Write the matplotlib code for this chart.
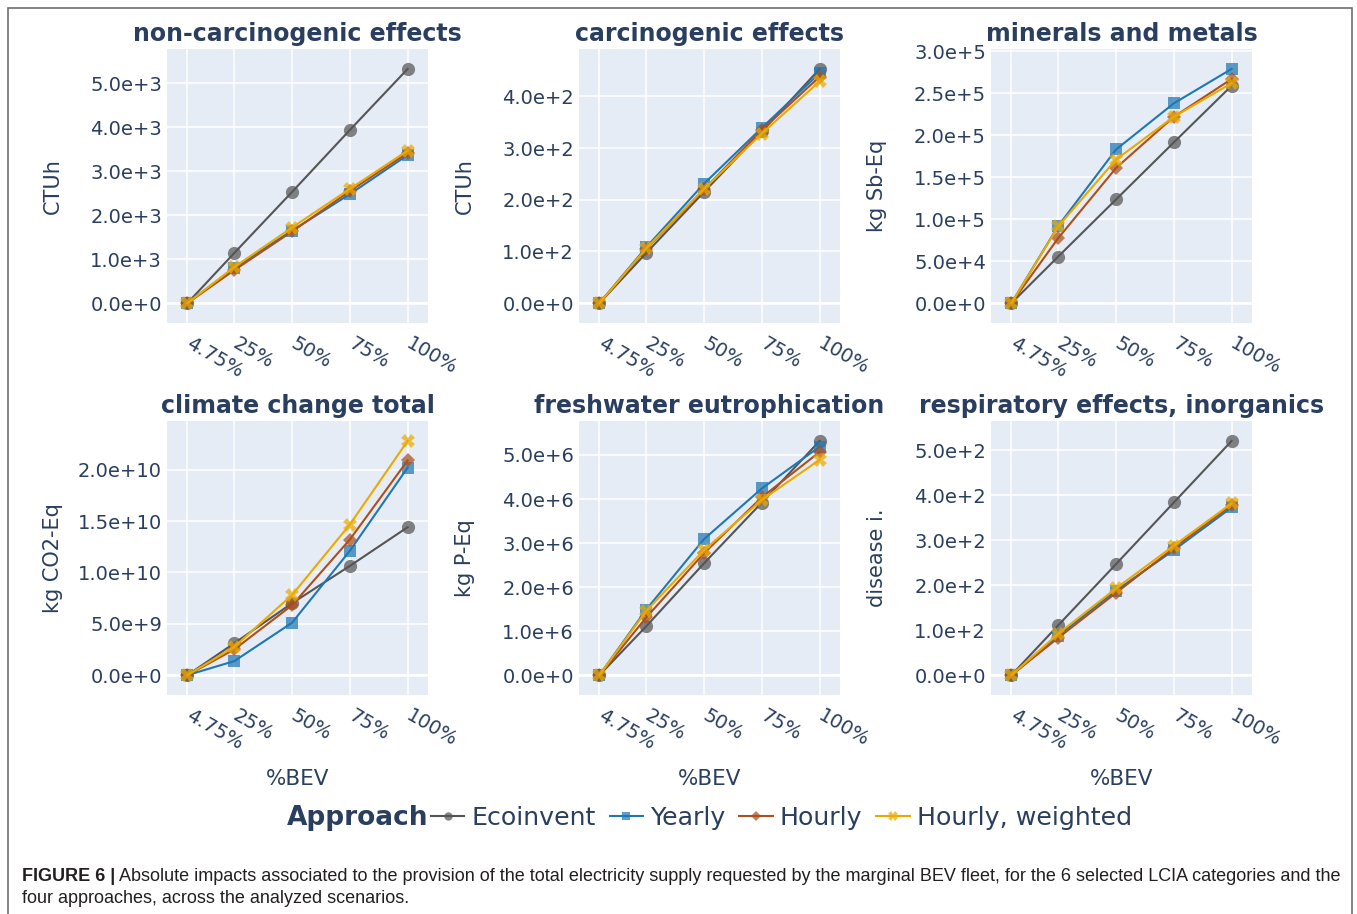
import numpy as np
import matplotlib
matplotlib.use("Agg")
import matplotlib.pyplot as plt
from matplotlib import font_manager
from matplotlib.colors import to_rgba
from matplotlib.lines import Line2D
from matplotlib.patches import Rectangle
from matplotlib.ticker import FuncFormatter, FixedLocator
from matplotlib.transforms import ScaledTranslation

# ---- data -------------------------------------------------------------
scenarios = [4.75, 25, 50, 75, 100]
scenario_labels = ["4.75%", "25%", "50%", "75%", "100%"]
approaches = ["Ecoinvent", "Yearly", "Hourly", "Hourly, weighted"]

titles = ["non-carcinogenic effects", "carcinogenic effects", "minerals and metals",
          "climate change total", "freshwater eutrophication",
          "respiratory effects, inorganics"]
units = ["CTUh", "CTUh", "kg Sb-Eq", "kg CO2-Eq", "kg P-Eq", "disease i."]
tick_steps = [1e3, 1e2, 5e4, 5e9, 1e6, 1e2]

non_carcinogenic = [
    [0, 1.14e3, 2.53e3, 3.94e3, 5.33e3],
    [0, 0.80e3, 1.65e3, 2.48e3, 3.37e3],
    [0, 0.75e3, 1.63e3, 2.55e3, 3.42e3],
    [0, 0.82e3, 1.72e3, 2.60e3, 3.47e3],
]
carcinogenic = [
    [0, 0.97e2, 2.15e2, 3.32e2, 4.53e2],
    [0, 1.08e2, 2.31e2, 3.39e2, 4.45e2],
    [0, 1.05e2, 2.20e2, 3.35e2, 4.38e2],
    [0, 1.06e2, 2.21e2, 3.28e2, 4.29e2],
]
minerals_metals = [
    [0, 0.555e5, 1.235e5, 1.915e5, 2.59e5],
    [0, 0.92e5, 1.83e5, 2.38e5, 2.79e5],
    [0, 0.775e5, 1.61e5, 2.22e5, 2.67e5],
    [0, 0.915e5, 1.71e5, 2.22e5, 2.62e5],
]
climate_change = [
    [0, 0.31e10, 0.70e10, 1.063e10, 1.44e10],
    [0, 0.136e10, 0.51e10, 1.21e10, 2.02e10],
    [0, 0.25e10, 0.68e10, 1.32e10, 2.09e10],
    [0, 0.275e10, 0.78e10, 1.466e10, 2.28e10],
]
freshwater_eutro = [
    [0, 1.11e6, 2.54e6, 3.92e6, 5.32e6],
    [0, 1.49e6, 3.09e6, 4.24e6, 5.19e6],
    [0, 1.31e6, 2.77e6, 4.04e6, 5.07e6],
    [0, 1.46e6, 2.84e6, 3.98e6, 4.89e6],
]
respiratory = [
    [0, 1.11e2, 2.47e2, 3.84e2, 5.21e2],
    [0, 0.88e2, 1.88e2, 2.78e2, 3.73e2],
    [0, 0.83e2, 1.83e2, 2.83e2, 3.78e2],
    [0, 0.92e2, 1.93e2, 2.88e2, 3.82e2],
]
panels = [non_carcinogenic, carcinogenic, minerals_metals,
          climate_change, freshwater_eutro, respiratory]

caption_bold = "FIGURE 6 |"
caption_line1 = ("Absolute impacts associated to the provision of the total electricity "
                 "supply requested by the marginal BEV fleet, for the 6 selected LCIA "
                 "categories and the")
caption_line2 = "four approaches, across the analyzed scenarios."

# ---- style ------------------------------------------------------------
line_colors = ["#555555", "#1f77b4", "#ad4f1a", "#ebaa00"]
markers = ["o", "s", "D", "X"]
marker_sizes = [9.5, 8.6, 7.4, 10.0]
legend_marker_sizes = [6.0, 5.6, 5.0, 6.6]
marker_alpha = 0.72
text_color = "#2a3f5f"
panel_bg = "#e5ecf6"

plt.rcParams["font.family"] = ["DejaVu Sans"]

W, H = 1357, 914
fig = plt.figure(figsize=(W / 100, H / 100), dpi=100)
fig.patch.set_facecolor("white")

col_x = [167, 579, 991]
row_y = [49, 421]
pw, ph = 261, 274


def sci_label(v, pos=None):
    if abs(v) < 1e-12:
        return "0.0e+0"
    exp = int(np.floor(np.log10(abs(v)) + 1e-9))
    mant = v / 10 ** exp
    return f"{mant:.1f}e+{exp}"


shift_left = ScaledTranslation(-7 / 100, 0, fig.dpi_scale_trans)

for k, data in enumerate(panels):
    r, c = divmod(k, 3)
    left = col_x[c] / W
    bottom = 1 - (row_y[r] + ph) / H
    ax = fig.add_axes([left, bottom, pw / W, ph / H])
    ax.set_facecolor(panel_bg)
    for sp in ax.spines.values():
        sp.set_visible(False)

    for i, vals in enumerate(data):
        mc = to_rgba(line_colors[i], marker_alpha)
        ax.plot(scenarios, vals, color=line_colors[i], lw=1.5,
                marker=markers[i], ms=marker_sizes[i], mfc=mc, mec=mc, mew=0,
                zorder=3 + i, clip_on=False)

    ymax = max(max(v) for v in data)
    ymin = min(min(v) for v in data)
    pad = 0.085 * (ymax - ymin)
    ax.set_ylim(ymin - pad, ymax + pad)
    ax.set_xlim(-4.1, 108.8)

    step = tick_steps[k]
    yt = np.arange(0, ymax + pad + step * 1e-6, step)
    yt = yt[yt <= ymax + pad]
    ax.yaxis.set_major_locator(FixedLocator(yt))
    ax.yaxis.set_major_formatter(FuncFormatter(sci_label))
    ax.set_xticks(scenarios)
    ax.set_xticklabels(scenario_labels, rotation=-30, ha="left", va="center",
                       rotation_mode="anchor")
    for lab in ax.get_xticklabels():
        lab.set_transform(lab.get_transform() + shift_left)

    ax.tick_params(axis="both", length=0, labelsize=14, colors=text_color)
    ax.tick_params(axis="y", pad=3.6)
    ax.tick_params(axis="x", pad=14)
    ax.grid(True, color="white", lw=1.1)
    ax.axhline(0, color="white", lw=1.8, zorder=1.5)
    ax.set_axisbelow(True)

    ax.set_ylabel(units[k], fontsize=15, color=text_color, va="center")
    ax.yaxis.set_label_coords(-114 / pw, 0.5)
    if r == 1:
        ax.set_xlabel("%BEV", fontsize=15.5, color=text_color, va="center")
        ax.xaxis.set_label_coords(0.5, -84 / ph)

    ax.text(0.5, 1 + 8 / ph, titles[k], transform=ax.transAxes, ha="center",
            va="baseline", fontsize=17, fontweight="bold", color=text_color)

# ---- legend -----------------------------------------------------------
fig.text(287 / W, 1 - 818 / H, "Approach", ha="left", va="center",
         fontsize=19, fontweight="bold", color=text_color)
handles = []
for i, name in enumerate(approaches):
    mc = to_rgba(line_colors[i], marker_alpha)
    handles.append(Line2D([0], [0], color=line_colors[i], lw=1.5, marker=markers[i],
                          ms=legend_marker_sizes[i], mfc=mc, mec=mc, mew=0,
                          label=name))
leg = fig.legend(handles=handles, loc="center left",
                 bbox_to_anchor=(431 / W, 1 - 818 / H), ncol=4, frameon=False,
                 fontsize=18.2, handlelength=1.32, handletextpad=0.28,
                 columnspacing=0.55, borderpad=0, borderaxespad=0)
for t in leg.get_texts():
    t.set_color(text_color)

# ---- frame around the figure area ------------------------------------
fig.add_artist(Rectangle((7.5 / W, -0.05), (1352 - 7.5) / W, 1.05 - 7.5 / H,
                         transform=fig.transFigure, fill=False,
                         edgecolor="#6e6e6e", lw=1.2, clip_on=False))

# ---- caption ----------------------------------------------------------
names = {f.name for f in font_manager.fontManager.ttflist}
cap_family = "Liberation Sans Narrow" if "Liberation Sans Narrow" in names else "Liberation Sans"
cap_color = "#231f20"
cap_size = 12.0
x0 = 22
base1 = 881
base2 = 903

t_bold = fig.text(x0 / W, 1 - base1 / H, caption_bold, ha="left", va="baseline",
                  fontsize=cap_size, fontweight="bold", family=cap_family,
                  color=cap_color)
t_l1 = fig.text(0, 1 - base1 / H, caption_line1, ha="left", va="baseline",
                fontsize=cap_size, family=cap_family, color=cap_color)
t_l2 = fig.text(x0 / W, 1 - base2 / H, caption_line2, ha="left", va="baseline",
                fontsize=cap_size, family=cap_family, color=cap_color)

renderer = fig.canvas.get_renderer()
target_right = 1340
for _ in range(3):
    bb = t_bold.get_window_extent(renderer)
    gap = cap_size * 0.3
    t_l1.set_x((bb.x1 + gap) / W)
    bb1 = t_l1.get_window_extent(renderer)
    total = bb1.x1 - x0
    cap_size *= (target_right - x0) / total
    for t in (t_bold, t_l1, t_l2):
        t.set_fontsize(cap_size)
bb = t_bold.get_window_extent(renderer)
t_l1.set_x((bb.x1 + cap_size * 0.3) / W)

fig.savefig("out.png", dpi=100, facecolor="white")
